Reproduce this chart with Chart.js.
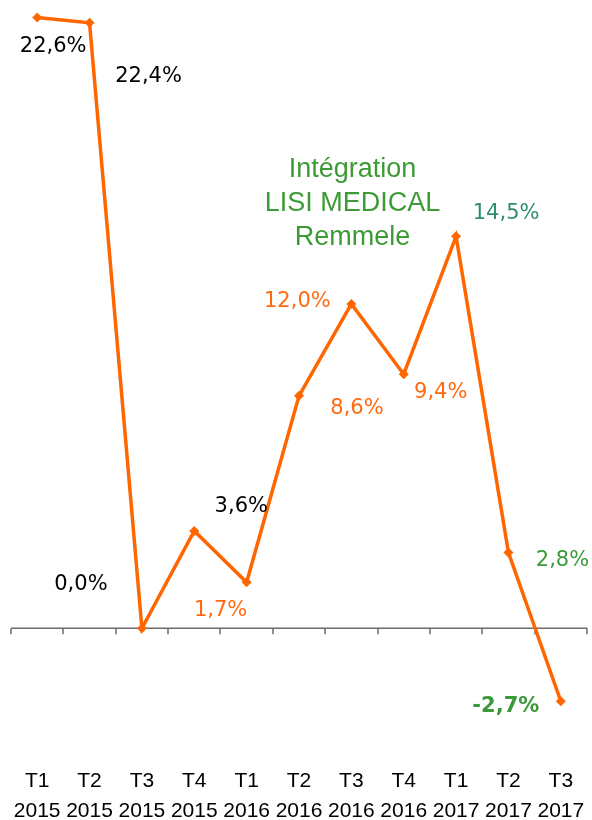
<!DOCTYPE html>
<html>
<head>
<meta charset="utf-8">
<script src="https://cdn.jsdelivr.net/npm/chart.js@4"></script>
<style>
  html, body { margin: 0; padding: 0; background: #fff; }
  #wrap { width: 592px; height: 820px; }
</style>
</head>
<body>
<div id="wrap"><canvas id="c" width="592" height="820"></canvas></div>
<script>
// data
const quarters = ['T1', 'T2', 'T3', 'T4', 'T1', 'T2', 'T3', 'T4', 'T1', 'T2', 'T3'];
const years = ['2015', '2015', '2015', '2015', '2016', '2016', '2016', '2016', '2017', '2017', '2017'];
const growth = [22.6, 22.4, 0.0, 3.6, 1.7, 8.6, 12.0, 9.4, 14.5, 2.8, -2.7];
const note = ['Intégration', 'LISI MEDICAL', 'Remmele'];

// label placement relative to each point (px) and colours
const labelOffsets = [[16, 29], [59, 54], [-61, -44], [47, -24], [-26, 28], [58, 13],
                      [-54, -2], [37, 18], [50, -23], [54, 8], [-55, 5]];
const labelColors = ['#000', '#000', '#000', '#000', '#ff6a10', '#ff6a10', '#ff6a10',
                     '#ff6a10', '#2f8f6a', '#3a9a3a', '#3a9a3a'];

const fmt = v => v.toFixed(1).replace('.', ',') + '%';

const decor = {
    id: 'decor',
    beforeDatasetsDraw(chart) {
        const ctx = chart.ctx, x = chart.scales.x, y = chart.scales.y;
        const y0 = y.getPixelForValue(0);
        const step = x.getPixelForValue(1) - x.getPixelForValue(0);
        ctx.save();
        ctx.strokeStyle = '#6b6b6b';
        ctx.lineWidth = 1.5;
        ctx.beginPath();
        ctx.moveTo(chart.chartArea.left, y0);
        ctx.lineTo(chart.chartArea.right, y0);
        for (let i = 0; i <= growth.length; i++) {
            const px = Math.round(x.getPixelForValue(0) - step / 2 + i * step);
            ctx.moveTo(px, y0);
            ctx.lineTo(px, y0 + 6);
        }
        ctx.stroke();
        ctx.restore();
    },
    afterDatasetsDraw(chart) {
        const ctx = chart.ctx, x = chart.scales.x, y = chart.scales.y;
        ctx.save();
        ctx.textAlign = 'center';
        ctx.textBaseline = 'middle';
        growth.forEach((v, i) => {
            const px = x.getPixelForValue(i) + labelOffsets[i][0];
            const py = y.getPixelForValue(v) + labelOffsets[i][1];
            ctx.font = (i === growth.length - 1 ? 'bold ' : '') + '21px "DejaVu Sans"';
            ctx.fillStyle = labelColors[i];
            ctx.fillText(fmt(v), px, py);
        });
        // annotation
        ctx.font = '27px "Liberation Sans"';
        ctx.fillStyle = '#3d9b35';
        const ax = (x.getPixelForValue(6) + x.getPixelForValue(7)) / 2 - 25;
        note.forEach((t, k) => ctx.fillText(t, ax, 170 + k * 34));
        ctx.restore();
    }
};

new Chart(document.getElementById('c'), {
    type: 'line',
    data: {
        labels: quarters.map((q, i) => [q, years[i]]),
        datasets: [{
            data: growth,
            borderColor: '#ff6600',
            backgroundColor: '#ff6600',
            borderWidth: 3.5,
            tension: 0,
            pointStyle: 'rectRot',
            pointRadius: 5,
            pointBackgroundColor: '#ff6600',
            pointBorderWidth: 0
        }]
    },
    options: {
        responsive: false,
        animation: false,
        layout: { padding: { left: 11, right: 1, top: 0, bottom: 0 } },
        plugins: { legend: { display: false }, tooltip: { enabled: false } },
        scales: {
            x: {
                offset: true,
                grid: { display: false },
                border: { display: false },
                ticks: {
                    color: '#000',
                    font: { family: 'Liberation Sans', size: 21, lineHeight: 1.43 },
                    maxRotation: 0,
                    autoSkip: false,
                    padding: -6
                }
            },
            y: {
                display: false,
                min: -5.02,
                max: 23.06
            }
        }
    },
    plugins: [decor]
});
</script>
</body>
</html>
